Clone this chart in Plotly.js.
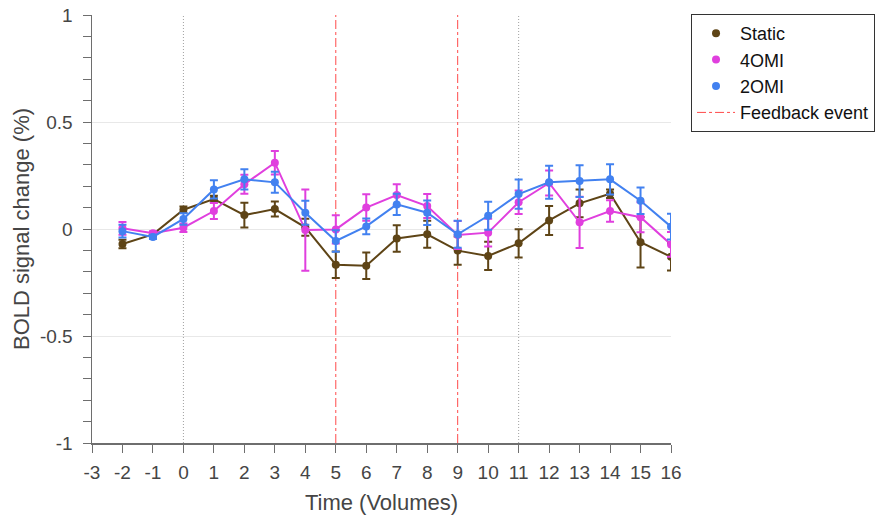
<!DOCTYPE html>
<html>
<head>
<meta charset="utf-8">
<script src="https://cdn.plot.ly/plotly-3.0.1.min.js"></script>
<style>html,body{margin:0;padding:0;background:#fff;}#chart{width:884px;height:515px;}</style>
</head>
<body>
<div id="chart"></div>
<script>
// Time points (volumes)
const timePoints = [-2,-1,0,1,2,3,4,5,6,7,8,9,10,11,12,13,14,15,16];

// Series means (BOLD % change)
const staticMean = [-0.07,-0.025,0.09,0.14,0.065,0.093,0.008,-0.167,-0.172,-0.044,-0.025,-0.101,-0.126,-0.067,0.04,0.12,0.165,-0.062,-0.13];
const staticErr  = [0.02,0.01,0.015,0.015,0.058,0.035,0.04,0.062,0.062,0.062,0.063,0.066,0.066,0.066,0.068,0.065,0.02,0.118,0.064];

const omi4Mean = [0.003,-0.02,0.006,0.084,0.209,0.31,-0.005,-0.002,0.1,0.159,0.107,-0.028,-0.017,0.125,0.215,0.031,0.084,0.055,-0.072];
const omi4Err  = [0.03,0.01,0.02,0.037,0.044,0.055,0.19,0.066,0.062,0.05,0.056,0.065,0.065,0.055,0.058,0.12,0.05,0.07,0.058];

const omi2Mean = [-0.01,-0.037,0.047,0.185,0.232,0.218,0.076,-0.056,0.012,0.115,0.076,-0.025,0.062,0.163,0.218,0.224,0.232,0.132,0.011];
const omi2Err  = [0.03,0.01,0.027,0.043,0.047,0.049,0.056,0.05,0.037,0.05,0.057,0.063,0.065,0.068,0.077,0.074,0.071,0.062,0.06];

// Event markers
const feedbackEvents = [5, 9];
const otherEvents = [0, 11];
const yLimits = [-1, 1];

// Axis ticks
const xTicks = [-3,-2,-1,0,1,2,3,4,5,6,7,8,9,10,11,12,13,14,15,16];
const yTicks = [-1,-0.5,0,0.5,1];
const yTickLabels = ['-1','-0.5','0','0.5','1'];

const colors = {static:'#5e4416', omi4:'#e03fde', omi2:'#4281f0', feedback:'#ff4a4a', other:'#a0a0a0'};
const seriesNames = ['Static','4OMI','2OMI'];

function vlines(xs){
  const x=[], y=[];
  xs.forEach(v=>{ x.push(v,v,null); y.push(yLimits[0],yLimits[1],null); });
  return {x,y};
}

const fb = vlines(feedbackEvents);
const ot = vlines(otherEvents);

function series(name, mean, err, color){
  return {
    x: timePoints, y: mean, name: name, type:'scatter', mode:'lines+markers',
    line:{color:color,width:2}, marker:{color:color,size:8},
    error_y:{type:'data',array:err,visible:true,color:color,thickness:2,width:4},
    showlegend:false, hoverinfo:'x+y'
  };
}
function legendDot(name,color,rank){
  return {x:[null],y:[null],name:name,type:'scatter',mode:'markers',
    marker:{color:color,size:8},legendrank:rank,showlegend:true};
}

const traces = [
  {x:ot.x,y:ot.y,type:'scatter',mode:'lines',line:{color:colors.other,width:1,dash:'1px,2px'},showlegend:false,hoverinfo:'skip'},
  {x:fb.x,y:fb.y,type:'scatter',mode:'lines',name:'Feedback event',line:{color:colors.feedback,width:1,dash:'dashdot'},showlegend:true,legendrank:4,hoverinfo:'skip'},
  series(seriesNames[0],staticMean,staticErr,colors.static),
  series(seriesNames[1],omi4Mean,omi4Err,colors.omi4),
  series(seriesNames[2],omi2Mean,omi2Err,colors.omi2),
  legendDot(seriesNames[0],colors.static,1),
  legendDot(seriesNames[1],colors.omi4,2),
  legendDot(seriesNames[2],colors.omi2,3)
];

const fam = '"Liberation Sans", Arial, sans-serif';
const axisFont = {family:fam, size:19, color:'#454545'};

const layout = {
  width:884, height:515,
  margin:{l:92, r:213, t:15, b:72},
  paper_bgcolor:'#fff', plot_bgcolor:'#fff',
  font:{family:fam, color:'#333'},
  xaxis:{
    range:[-3,16], tickvals:xTicks, ticktext:xTicks.map(String),
    showgrid:false, zeroline:false, showline:true, linecolor:'#6e6e6e', linewidth:1.5,
    ticks:'outside', ticklen:8, tickcolor:'#6e6e6e', tickwidth:1,
    tickfont:axisFont, ticklabelstandoff:4,
    title:{text:'Time (Volumes)', font:{family:fam, size:22, color:'#454545'}, standoff:12}
  },
  yaxis:{
    range:yLimits, tickvals:yTicks, ticktext:yTickLabels,
    showgrid:true, gridcolor:'#e8e8e8', gridwidth:1, zeroline:false,
    showline:true, linecolor:'#6e6e6e', linewidth:1.5,
    ticks:'outside', ticklen:8, tickcolor:'#6e6e6e', tickwidth:1,
    minor:{dtick:0.1, ticks:'outside', ticklen:8, tickcolor:'#6e6e6e', showgrid:false},
    tickfont:axisFont, ticklabelstandoff:6,
    title:{text:'BOLD signal change (%)', font:{family:fam, size:22, color:'#454545'}, standoff:4}
  },
  legend:{
    xref:'container', yref:'container',
    x:0.7817, xanchor:'left', y:0.9728, yanchor:'top',
    bgcolor:'#fff', bordercolor:'#333', borderwidth:1,
    font:{family:fam, size:18, color:'#111'},
    traceorder:'normal', itemwidth:38
  },
  showlegend:true
};

Plotly.newPlot('chart', traces, layout, {displayModeBar:false, staticPlot:true});
</script>
</body>
</html>
